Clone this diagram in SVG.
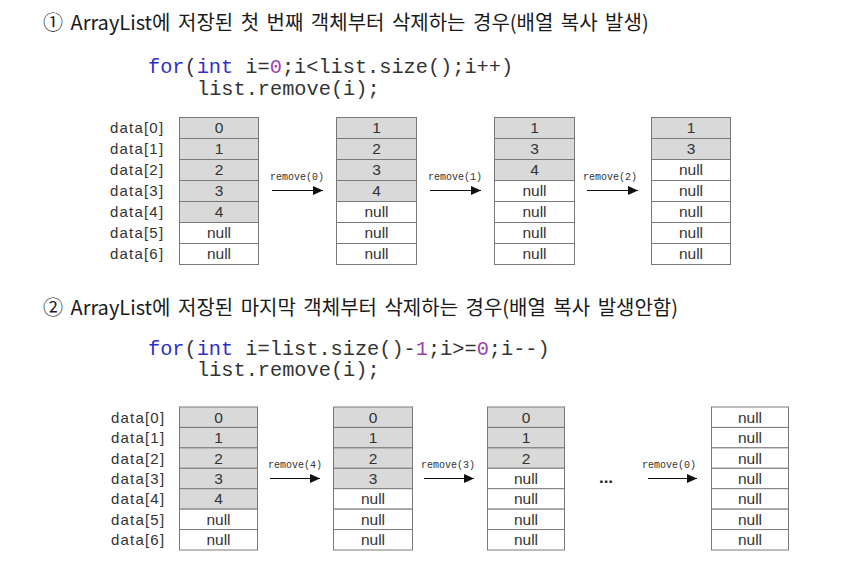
<svg xmlns="http://www.w3.org/2000/svg" width="842" height="566" viewBox="0 0 842 566">
<style>
.title{font-family:"Noto Sans CJK KR","Liberation Sans",sans-serif;font-size:20px;word-spacing:3px;fill:#1a1a1a}
.code{font-family:"Liberation Mono","DejaVu Sans Mono",monospace;font-size:20.3px;fill:#333}
.kw{fill:#2f2fc8}
.num{fill:#9b3fae}
.lbl{font-family:"Liberation Sans",Arial,sans-serif;font-size:15px;fill:#333;letter-spacing:1.2px}
.cell{font-family:"Liberation Sans",Arial,sans-serif;font-size:15.5px;fill:#333;text-anchor:middle}
.g{fill:#d9d9d9;stroke:#7a7a7a;stroke-width:1}
.w{fill:#fff;stroke:#7a7a7a;stroke-width:1}
.op{font-family:"Liberation Mono","DejaVu Sans Mono",monospace;font-size:10px;fill:#333;text-anchor:middle}
.arr{stroke:#111;stroke-width:1;fill:none;marker-end:url(#ah)}
.dots{font-family:"Liberation Sans",Arial,sans-serif;font-size:17px;font-weight:bold;fill:#222;text-anchor:middle}
</style>
<defs>
<marker id="ah" markerUnits="userSpaceOnUse" markerWidth="10" markerHeight="9" refX="10" refY="4.5" orient="auto">
<path d="M0,0 L10,4.5 L0,9 z" fill="#111"/>
</marker>
</defs>
<rect width="842" height="566" fill="#fff"/>

<g id="section1-title">
<text class="title" x="43" y="30">① ArrayList에 저장된 첫 번째 객체부터 삭제하는 경우(배열 복사 발생)</text>
</g>
<g id="section1-code">
<text class="code" x="148" y="73"><tspan class="kw">for</tspan>(<tspan class="kw">int</tspan> i=<tspan class="num">0</tspan>;i&lt;list.size();i++)</text>
<text class="code" x="197" y="95">list.remove(i);</text>
</g>

<g id="section1-labels">
<text class="lbl" x="110" y="133">data[0]</text>
<text class="lbl" x="110" y="154">data[1]</text>
<text class="lbl" x="110" y="175">data[2]</text>
<text class="lbl" x="110" y="196">data[3]</text>
<text class="lbl" x="110" y="217">data[4]</text>
<text class="lbl" x="110" y="238">data[5]</text>
<text class="lbl" x="110" y="259">data[6]</text>
</g>

<g id="s1-array0">
<rect class="g" x="179.5" y="117.5" width="79" height="21"/>
<rect class="g" x="179.5" y="138.5" width="79" height="21"/>
<rect class="g" x="179.5" y="159.5" width="79" height="21"/>
<rect class="g" x="179.5" y="180.5" width="79" height="21"/>
<rect class="g" x="179.5" y="201.5" width="79" height="21"/>
<rect class="w" x="179.5" y="222.5" width="79" height="21"/>
<rect class="w" x="179.5" y="243.5" width="79" height="21"/>
<text class="cell" x="219" y="133">0</text>
<text class="cell" x="219" y="154">1</text>
<text class="cell" x="219" y="175">2</text>
<text class="cell" x="219" y="196">3</text>
<text class="cell" x="219" y="217">4</text>
<text class="cell" x="219" y="238">null</text>
<text class="cell" x="219" y="259">null</text>
</g>

<g id="s1-array1">
<rect class="g" x="336.5" y="117.5" width="80" height="21"/>
<rect class="g" x="336.5" y="138.5" width="80" height="21"/>
<rect class="g" x="336.5" y="159.5" width="80" height="21"/>
<rect class="g" x="336.5" y="180.5" width="80" height="21"/>
<rect class="w" x="336.5" y="201.5" width="80" height="21"/>
<rect class="w" x="336.5" y="222.5" width="80" height="21"/>
<rect class="w" x="336.5" y="243.5" width="80" height="21"/>
<text class="cell" x="376.5" y="133">1</text>
<text class="cell" x="376.5" y="154">2</text>
<text class="cell" x="376.5" y="175">3</text>
<text class="cell" x="376.5" y="196">4</text>
<text class="cell" x="376.5" y="217">null</text>
<text class="cell" x="376.5" y="238">null</text>
<text class="cell" x="376.5" y="259">null</text>
</g>

<g id="s1-array2">
<rect class="g" x="494.5" y="117.5" width="80" height="21"/>
<rect class="g" x="494.5" y="138.5" width="80" height="21"/>
<rect class="g" x="494.5" y="159.5" width="80" height="21"/>
<rect class="w" x="494.5" y="180.5" width="80" height="21"/>
<rect class="w" x="494.5" y="201.5" width="80" height="21"/>
<rect class="w" x="494.5" y="222.5" width="80" height="21"/>
<rect class="w" x="494.5" y="243.5" width="80" height="21"/>
<text class="cell" x="534.5" y="133">1</text>
<text class="cell" x="534.5" y="154">3</text>
<text class="cell" x="534.5" y="175">4</text>
<text class="cell" x="534.5" y="196">null</text>
<text class="cell" x="534.5" y="217">null</text>
<text class="cell" x="534.5" y="238">null</text>
<text class="cell" x="534.5" y="259">null</text>
</g>

<g id="s1-array3">
<rect class="g" x="651.5" y="117.5" width="79" height="21"/>
<rect class="g" x="651.5" y="138.5" width="79" height="21"/>
<rect class="w" x="651.5" y="159.5" width="79" height="21"/>
<rect class="w" x="651.5" y="180.5" width="79" height="21"/>
<rect class="w" x="651.5" y="201.5" width="79" height="21"/>
<rect class="w" x="651.5" y="222.5" width="79" height="21"/>
<rect class="w" x="651.5" y="243.5" width="79" height="21"/>
<text class="cell" x="691" y="133">1</text>
<text class="cell" x="691" y="154">3</text>
<text class="cell" x="691" y="175">null</text>
<text class="cell" x="691" y="196">null</text>
<text class="cell" x="691" y="217">null</text>
<text class="cell" x="691" y="238">null</text>
<text class="cell" x="691" y="259">null</text>
</g>

<g id="section2-title">
<text class="title" x="43" y="315">② ArrayList에 저장된 마지막 객체부터 삭제하는 경우(배열 복사 발생안함)</text>
</g>
<g id="section2-code">
<text class="code" x="148" y="355"><tspan class="kw">for</tspan>(<tspan class="kw">int</tspan> i=list.size()-<tspan class="num">1</tspan>;i&gt;=<tspan class="num">0</tspan>;i--)</text>
<text class="code" x="197" y="376">list.remove(i);</text>
</g>

<g id="section2-labels">
<text class="lbl" x="111" y="422.7">data[0]</text>
<text class="lbl" x="111" y="443.1">data[1]</text>
<text class="lbl" x="111" y="463.6">data[2]</text>
<text class="lbl" x="111" y="484">data[3]</text>
<text class="lbl" x="111" y="504.4">data[4]</text>
<text class="lbl" x="111" y="524.9">data[5]</text>
<text class="lbl" x="111" y="545.3">data[6]</text>
</g>

<g id="s2-array0">
<rect class="g" x="179.5" y="407" width="78" height="20.43"/>
<rect class="g" x="179.5" y="427.43" width="78" height="20.43"/>
<rect class="g" x="179.5" y="447.86" width="78" height="20.43"/>
<rect class="g" x="179.5" y="468.29" width="78" height="20.43"/>
<rect class="g" x="179.5" y="488.71" width="78" height="20.43"/>
<rect class="w" x="179.5" y="509.14" width="78" height="20.43"/>
<rect class="w" x="179.5" y="529.57" width="78" height="20.43"/>
<text class="cell" x="218.5" y="422.7">0</text>
<text class="cell" x="218.5" y="443.1">1</text>
<text class="cell" x="218.5" y="463.6">2</text>
<text class="cell" x="218.5" y="484">3</text>
<text class="cell" x="218.5" y="504.4">4</text>
<text class="cell" x="218.5" y="524.9">null</text>
<text class="cell" x="218.5" y="545.3">null</text>
</g>

<g id="s2-array1">
<rect class="g" x="333.5" y="407" width="79" height="20.43"/>
<rect class="g" x="333.5" y="427.43" width="79" height="20.43"/>
<rect class="g" x="333.5" y="447.86" width="79" height="20.43"/>
<rect class="g" x="333.5" y="468.29" width="79" height="20.43"/>
<rect class="w" x="333.5" y="488.71" width="79" height="20.43"/>
<rect class="w" x="333.5" y="509.14" width="79" height="20.43"/>
<rect class="w" x="333.5" y="529.57" width="79" height="20.43"/>
<text class="cell" x="373" y="422.7">0</text>
<text class="cell" x="373" y="443.1">1</text>
<text class="cell" x="373" y="463.6">2</text>
<text class="cell" x="373" y="484">3</text>
<text class="cell" x="373" y="504.4">null</text>
<text class="cell" x="373" y="524.9">null</text>
<text class="cell" x="373" y="545.3">null</text>
</g>

<g id="s2-array2">
<rect class="g" x="487.5" y="407" width="77" height="20.43"/>
<rect class="g" x="487.5" y="427.43" width="77" height="20.43"/>
<rect class="g" x="487.5" y="447.86" width="77" height="20.43"/>
<rect class="w" x="487.5" y="468.29" width="77" height="20.43"/>
<rect class="w" x="487.5" y="488.71" width="77" height="20.43"/>
<rect class="w" x="487.5" y="509.14" width="77" height="20.43"/>
<rect class="w" x="487.5" y="529.57" width="77" height="20.43"/>
<text class="cell" x="526" y="422.7">0</text>
<text class="cell" x="526" y="443.1">1</text>
<text class="cell" x="526" y="463.6">2</text>
<text class="cell" x="526" y="484">null</text>
<text class="cell" x="526" y="504.4">null</text>
<text class="cell" x="526" y="524.9">null</text>
<text class="cell" x="526" y="545.3">null</text>
</g>

<g id="s2-array3">
<rect class="w" x="711.5" y="407" width="77" height="20.43"/>
<rect class="w" x="711.5" y="427.43" width="77" height="20.43"/>
<rect class="w" x="711.5" y="447.86" width="77" height="20.43"/>
<rect class="w" x="711.5" y="468.29" width="77" height="20.43"/>
<rect class="w" x="711.5" y="488.71" width="77" height="20.43"/>
<rect class="w" x="711.5" y="509.14" width="77" height="20.43"/>
<rect class="w" x="711.5" y="529.57" width="77" height="20.43"/>
<text class="cell" x="750" y="422.7">null</text>
<text class="cell" x="750" y="443.1">null</text>
<text class="cell" x="750" y="463.6">null</text>
<text class="cell" x="750" y="484">null</text>
<text class="cell" x="750" y="504.4">null</text>
<text class="cell" x="750" y="524.9">null</text>
<text class="cell" x="750" y="545.3">null</text>
</g>

<g id="connectors">
<line class="arr" x1="272" y1="190.5" x2="323" y2="190.5"/>
<text class="op" x="297" y="180">remove(0)</text>
<line class="arr" x1="430" y1="190.5" x2="481" y2="190.5"/>
<text class="op" x="455" y="180">remove(1)</text>
<line class="arr" x1="587" y1="190.5" x2="638" y2="190.5"/>
<text class="op" x="610" y="180">remove(2)</text>
<line class="arr" x1="270" y1="478.5" x2="320" y2="478.5"/>
<text class="op" x="295" y="468">remove(4)</text>
<line class="arr" x1="424" y1="478.5" x2="474" y2="478.5"/>
<text class="op" x="448" y="468">remove(3)</text>
<line class="arr" x1="648" y1="478.5" x2="697" y2="478.5"/>
<text class="op" x="669" y="468">remove(0)</text>
<text class="dots" x="606" y="483">...</text>
</g>
</svg>
